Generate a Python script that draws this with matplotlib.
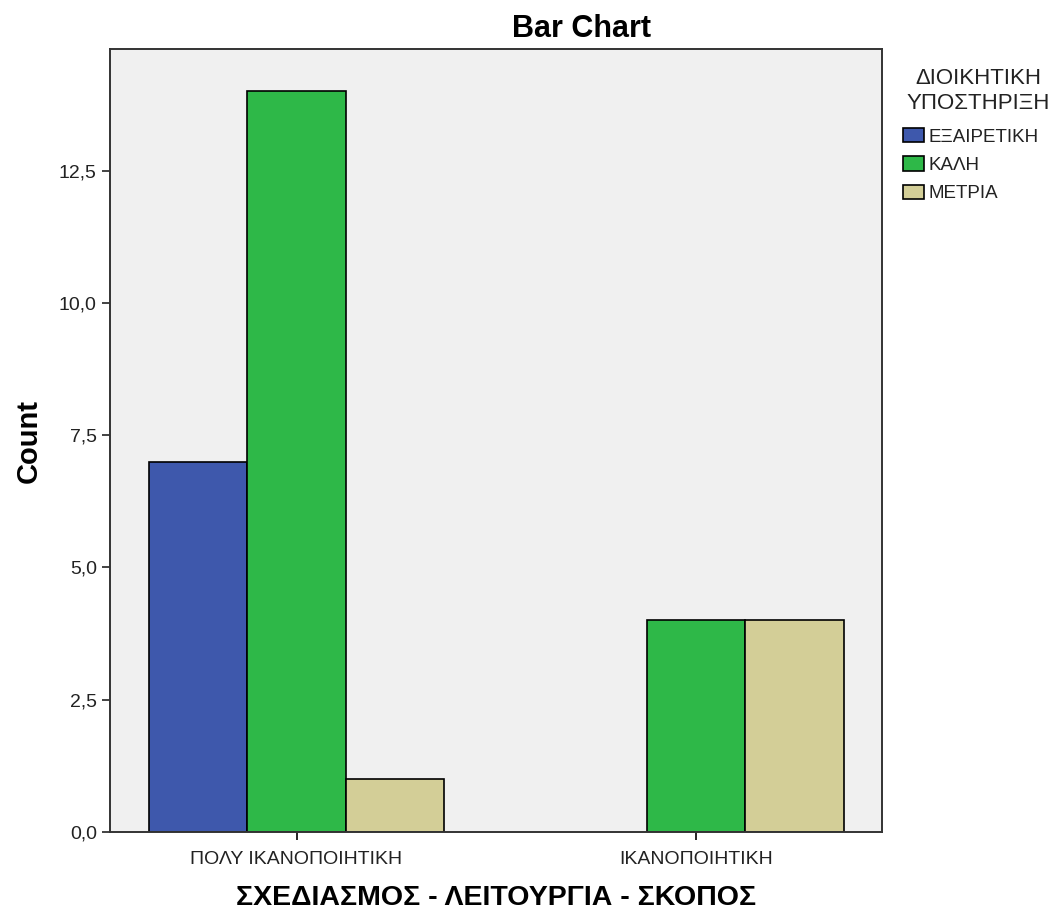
import numpy as np
import matplotlib
matplotlib.use("Agg")
import matplotlib.pyplot as plt
from matplotlib.ticker import FuncFormatter, MultipleLocator


# ==========================
# データ
# ==========================

categories = ["ΠΟΛΥ ΙΚΑΝΟΠΟΙΗΤΙΚΗ", "ΙΚΑΝΟΠΟΙΗΤΙΚΗ"]
groups = ["ΕΞΑΙΡΕΤΙΚΗ", "ΚΑΛΗ", "ΜΕΤΡΙΑ"]
counts = {
    "ΕΞΑΙΡΕΤΙΚΗ": [7, 0],
    "ΚΑΛΗ": [14, 4],
    "ΜΕΤΡΙΑ": [1, 4],
}
colors = ["#3E58AC", "#2EB848", "#D3CE97"]


# ==========================
# 描画
# ==========================

plt.rcParams["font.family"] = ["Liberation Sans", "DejaVu Sans"]

W, H = 1054, 915
fig = plt.figure(figsize=(W / 100, H / 100), dpi=100)
ax = fig.add_axes([110 / W, 1 - 832 / H, 772 / W, 783 / H])
ax.set_facecolor("#F0F0F0")

x = np.arange(len(categories))
w = 0.2466

for i, (g, c) in enumerate(zip(groups, colors)):
    vals = np.array(counts[g], dtype=float)
    mask = vals > 0
    ax.bar(
        x[mask] + (i - 1) * w,
        vals[mask],
        width=w,
        color=c,
        edgecolor="black",
        linewidth=1.2,
        label=g,
        zorder=2,
    )

ax.set_xlim(-0.467, 1.466)
ax.set_ylim(0, 14.8)
ax.set_xticks(x)
ax.set_xticklabels(categories, fontsize=14, color="#222222")
ax.yaxis.set_major_locator(MultipleLocator(2.5))
ax.yaxis.set_major_formatter(
    FuncFormatter(lambda v, p: f"{v:.1f}".replace(".", ","))
)
ax.tick_params(axis="y", labelsize=14, length=6, width=1.2, colors="#222222")
ax.tick_params(axis="x", length=6, width=1.2, pad=8)

for s in ax.spines.values():
    s.set_color("#333333")
    s.set_linewidth(1.4)

# タイトルはグラフ全体（凡例込み）の中央
fig.text(582 / W, 1 - 37 / H, "Bar Chart", fontsize=22, fontweight="bold",
         ha="center", va="baseline")
ax.set_ylabel("Count", fontsize=21, fontweight="bold", labelpad=12)
ax.set_xlabel("ΣΧΕΔΙΑΣΜΟΣ - ΛΕΙΤΟΥΡΓΙΑ - ΣΚΟΠΟΣ",
              fontsize=20.5, fontweight="bold", labelpad=12)

# 凡例
fig.text(978 / W, 1 - 91 / H, "ΔΙΟΙΚΗΤΙΚΗ\nΥΠΟΣΤΗΡΙΞΗ", fontsize=16,
         ha="center", va="center", linespacing=1.3, color="#222222")

leg = fig.legend(
    loc="upper left",
    bbox_to_anchor=(903 / W, 1 - 128 / H),
    bbox_transform=fig.transFigure,
    frameon=False,
    fontsize=13.5,
    handlelength=1.1,
    handleheight=0.8,
    handletextpad=0.25,
    labelspacing=0.57,
    borderaxespad=0,
    borderpad=0,
)
for t in leg.get_texts():
    t.set_color("#222222")

fig.savefig("out.png", dpi=100)
plt.close()
